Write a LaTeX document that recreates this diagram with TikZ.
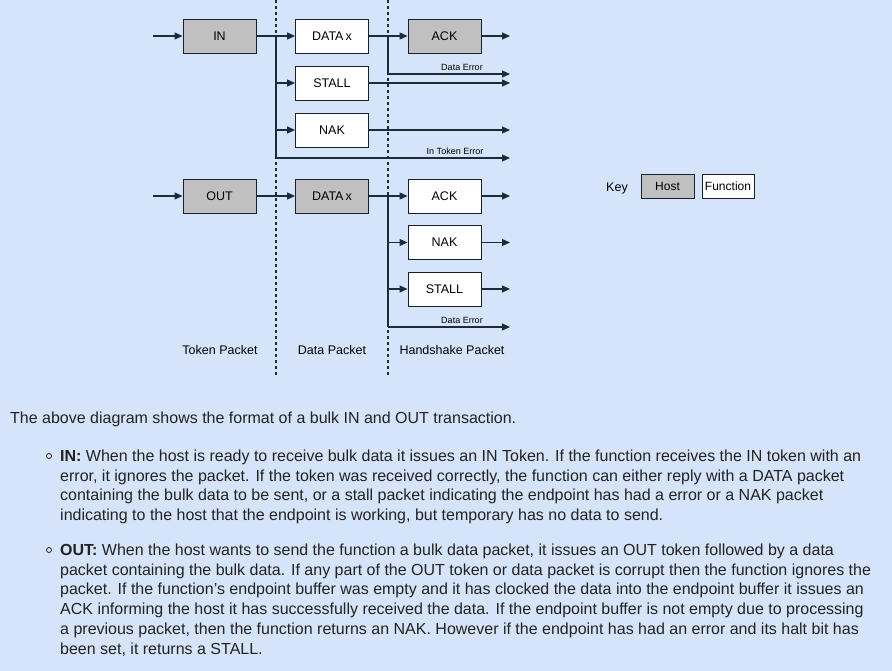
\documentclass[tikz,border=0pt]{standalone}
\usepackage{fontspec}
\setmainfont{Liberation Sans}
\usetikzlibrary{arrows.meta}
\definecolor{bg}{HTML}{D6E4FA}
\definecolor{ln}{HTML}{1C2A3C}
\definecolor{host}{HTML}{C0C0C0}
\definecolor{txt}{HTML}{222222}
\begin{document}
\begin{tikzpicture}[x=1pt,y=-1pt,
  pkt/.style={draw=ln!80!black,line width=0.9pt,minimum width=73pt,minimum height=34pt,inner sep=0pt,font=\fontsize{12.5}{14}\selectfont},
  hostbox/.style={pkt,fill=host},
  funcbox/.style={pkt,fill=white},
  conn/.style={draw=ln,line width=1.1pt},
  arr/.style={conn,-{Triangle[length=8pt,width=7pt]}},
  lbl/.style={font=\fontsize{9}{10}\selectfont,inner sep=0pt},
  captxt/.style={font=\fontsize{12.5}{14}\selectfont,inner sep=0pt},
  sepline/.style={draw=ln,line width=1.4pt,dash pattern=on 3pt off 3pt},
  para/.style={anchor=base west,inner sep=0pt,text=txt,font=\fontsize{16}{18}\selectfont}]
\fill[bg] (0,0) rectangle (892,671);
\useasboundingbox (0,0) rectangle (892,671);
% separators
\coordinate (s1t) at (276,0); \coordinate (s1b) at (276,376);
\coordinate (s2t) at (388,0); \coordinate (s2b) at (388,376);
\draw[sepline] (s1t) -- (s1b);
\draw[sepline] (s2t) -- (s2b);
% IN transaction
\node[hostbox] (in) at (219.5,36) {IN};
\node[funcbox] (dx1) at (332,36) {DATA\,x};
\node[funcbox] (st1) at (332,83) {STALL};
\node[funcbox] (nk1) at (332,130) {NAK};
\node[hostbox] (ak1) at (444.5,36) {ACK};
\coordinate (inS) at (153,36);
\coordinate (j1) at (276,36);
\coordinate (j1b) at (276,158);
\coordinate (j2) at (388,36);
\coordinate (j2b) at (388,74);
\coordinate (ak1o) at (510,36);
\coordinate (de1o) at (510,74);
\coordinate (st1o) at (510,83);
\coordinate (nk1o) at (510,130);
\coordinate (ite) at (510,158);
\draw[arr] (inS) -- (in);
\draw[conn] (in) -- (j1) -- (j1b);
\draw[arr] (j1) -- (dx1);
\draw[arr] (j1 |- st1) -- (st1);
\draw[arr] (j1 |- nk1) -- (nk1);
\draw[arr] (j1b) -- (ite);
\draw[conn] (dx1) -- (j2) -- (j2b);
\draw[arr] (j2) -- (ak1);
\draw[arr] (j2b) -- (de1o);
\draw[arr] (ak1) -- (ak1o);
\draw[arr] (st1) -- (st1o);
\draw[arr] (nk1) -- (nk1o);
\node[lbl,anchor=base] (del1) at (462,70.5) {Data Error};
\node[lbl,anchor=base] (itel) at (455,155) {In Token Error};
% OUT transaction
\node[hostbox] (out) at (219.5,196) {OUT};
\node[hostbox] (dx2) at (332,196) {DATA\,x};
\node[funcbox] (ak2) at (444.5,196) {ACK};
\node[funcbox] (nk2) at (444.5,242.5) {NAK};
\node[funcbox] (st2) at (444.5,289) {STALL};
\coordinate (outS) at (153,196);
\coordinate (j3) at (388,196);
\coordinate (j3b) at (388,327);
\coordinate (ak2o) at (510,196);
\coordinate (nk2o) at (510,242.5);
\coordinate (st2o) at (510,289);
\coordinate (de2o) at (510,327);
\draw[arr] (outS) -- (out);
\draw[arr] (out) -- (dx2);
\draw[conn] (dx2) -- (j3) -- (j3b);
\draw[arr] (j3) -- (ak2);
\draw[arr] (j3 |- nk2) -- (nk2);
\draw[arr] (j3 |- st2) -- (st2);
\draw[arr] (j3b) -- (de2o);
\draw[arr] (ak2) -- (ak2o);
\draw[arr] (nk2) -- (nk2o);
\draw[arr] (st2) -- (st2o);
\node[lbl,anchor=base] (del2) at (462,323.5) {Data Error};
% captions
\node[captxt] (c1) at (220,350) {Token Packet};
\node[captxt] (c2) at (332,350) {Data Packet};
\node[captxt] (c3) at (452,350) {Handshake Packet};
% key
\node[captxt] (key) at (617,188) {Key};
\node[draw=ln!80!black,line width=0.9pt,fill=host,minimum width=53pt,minimum height=24pt,inner sep=0pt,font=\fontsize{12}{13}\selectfont] (kh) at (667.5,186) {Host};
\node[draw=ln!80!black,line width=0.9pt,fill=white,minimum width=52pt,minimum height=24pt,inner sep=0pt,font=\fontsize{12}{13}\selectfont] (kf) at (728,186) {Function};
% text
\node[para] (p0) at (10,423.5) {The above diagram shows the format of a bulk IN and OUT transaction.};
\draw[txt,line width=0.8pt] (49,456) circle (2.5pt);
\node[para] (a1) at (60,461.5) {\textbf{IN:} When the host is ready to receive bulk data it issues an IN Token. If the function receives the IN token with an};
\node[para] (a2) at (60,481) {error, it ignores the packet. If the token was received correctly, the function can either reply with a DATA packet};
\node[para] (a3) at (60,500.5) {containing the bulk data to be sent, or a stall packet indicating the endpoint has had a error or a NAK packet};
\node[para] (a4) at (60,520) {indicating to the host that the endpoint is working, but temporary has no data to send.};
\draw[txt,line width=0.8pt] (49,550) circle (2.5pt);
\node[para] (b1) at (60,555.5) {\textbf{OUT:} When the host wants to send the function a bulk data packet, it issues an OUT token followed by a data};
\node[para] (b2) at (60,575) {packet containing the bulk data. If any part of the OUT token or data packet is corrupt then the function ignores the};
\node[para] (b3) at (60,594.5) {packet. If the function's endpoint buffer was empty and it has clocked the data into the endpoint buffer it issues an};
\node[para] (b4) at (60,614) {ACK informing the host it has successfully received the data. If the endpoint buffer is not empty due to processing};
\node[para] (b5) at (60,634) {a previous packet, then the function returns an NAK. However if the endpoint has had an error and its halt bit has};
\node[para] (b6) at (60,654) {been set, it returns a STALL.};
\end{tikzpicture}
\end{document}
